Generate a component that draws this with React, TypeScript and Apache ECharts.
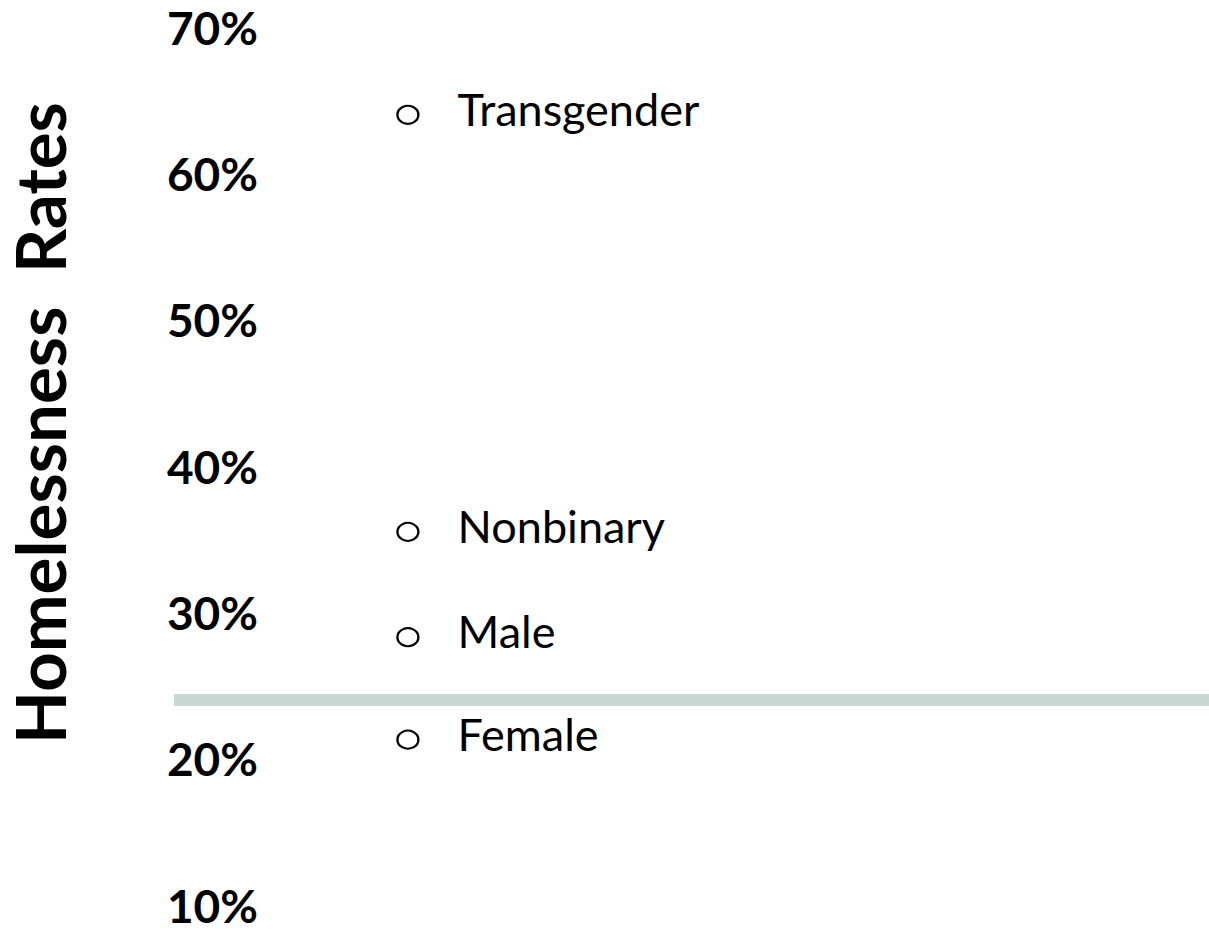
import React, { useEffect, useRef } from 'react';
import * as echarts from 'echarts';

const groups = ['Transgender', 'Nonbinary', 'Male', 'Female'];
const rates = [64, 35.5, 28.3, 21.3];
const referenceRate = 24;
const yTitle = 'Homelessness  Rates';

export default function App() {
  const ref = useRef<HTMLDivElement>(null);
  useEffect(() => {
    const chart = echarts.init(ref.current!, null, { renderer: 'svg' });
    const markerX = 22.6;
    chart.setOption({
      animation: false,
      grid: { left: 174, right: 0, top: 27, bottom: 24, outerBoundsMode: 'none', containLabel: false },
      xAxis: { type: 'value', min: 0, max: 100, show: false },
      yAxis: {
        type: 'value',
        min: 10,
        max: 70,
        interval: 10,
        axisLine: { show: false },
        axisTick: { show: false },
        splitLine: { show: false },
        axisLabel: {
          formatter: '{value}%',
          margin: -84,
          fontFamily: 'Lato',
          fontWeight: 'bold',
          fontSize: 46,
          lineHeight: 34,
          color: '#000',
        },
        name: yTitle,
        nameLocation: 'middle',
        nameRotate: 90,
        nameGap: 105,
        nameTextStyle: {
          fontFamily: 'Lato',
          fontWeight: 'bold',
          fontSize: 69,
          lineHeight: 60,
          color: '#000',
          padding: [0, 0, 0, 86],
        },
      },
      series: [
        {
          type: 'scatter',
          data: groups.map((g, i) => ({ name: g, value: [markerX, rates[i]] })),
          symbol: 'circle',
          symbolSize: [21, 18],
          itemStyle: { color: '#fff', borderColor: '#000', borderWidth: 2.2, opacity: 1 },
          label: {
            show: true,
            position: 'right',
            distance: 38,
            offset: [0, -6],
            formatter: '{b}',
            fontFamily: 'Lato',
            fontSize: 45,
            color: '#000',
          },
          markLine: {
            silent: true,
            symbol: 'none',
            label: { show: false },
            lineStyle: { color: '#c8d9d4', width: 12, type: 'solid' },
            data: [{ yAxis: referenceRate }],
          },
          z: 3,
        },
      ],
    });
    return () => chart.dispose();
  }, []);
  return <div ref={ref} style={{ position: 'absolute', left: 0, top: 0, width: 1209, height: 929 }} />;
}
